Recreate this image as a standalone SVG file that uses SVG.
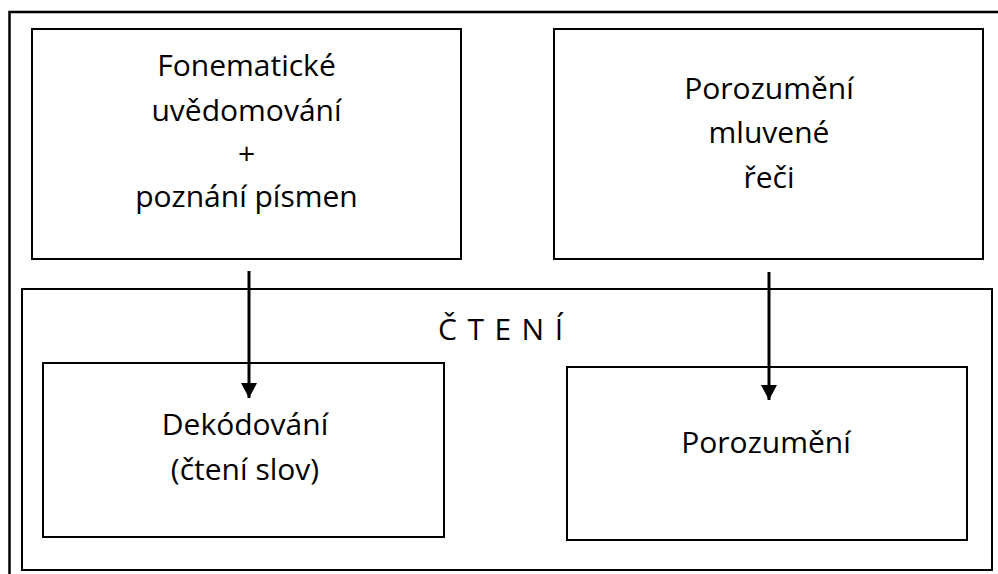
<svg xmlns="http://www.w3.org/2000/svg" width="998" height="574" viewBox="0 0 998 574">
<defs>
<style>
.box{fill:none;stroke:#000;stroke-width:2}
.t{font-family:"Open Sans","Noto Sans",sans-serif;font-size:30px;fill:#000;text-anchor:middle}
.conn{stroke:#000;stroke-width:3;fill:none}
</style>
<marker id="ah" markerUnits="userSpaceOnUse" markerWidth="18" markerHeight="18" refX="15" refY="8" orient="auto">
<path d="M0,0 L15,8 L0,16 Z" fill="#000"/>
</marker>
</defs>
<rect width="998" height="574" fill="#fff"/>
<path d="M9.5,574 V12 H998" fill="none" stroke="#000" stroke-width="2.5"/>
<g id="cteni">
<rect class="box" x="22" y="289" width="970" height="281"/>
<text class="t" x="438" y="340" style="text-anchor:start;letter-spacing:10.5px">ČTENÍ</text>
</g>
<g id="fonematicke">
<rect class="box" x="32" y="29" width="429" height="230"/>
<text class="t" x="246.5" y="76">Fonematické</text>
<text class="t" x="246.5" y="121">uvědomování</text>
<text class="t" x="246.5" y="164">+</text>
<text class="t" x="246.5" y="207">poznání písmen</text>
</g>
<g id="porozumeni-reci">
<rect class="box" x="554" y="29" width="429" height="230"/>
<text class="t" x="769" y="99">Porozumění</text>
<text class="t" x="769" y="143">mluvené</text>
<text class="t" x="769" y="188">řeči</text>
</g>
<g id="dekodovani">
<rect class="box" x="43" y="363" width="401" height="174"/>
<text class="t" x="245" y="435">Dekódování</text>
<text class="t" x="245" y="480">(čtení slov)</text>
</g>
<g id="porozumeni">
<rect class="box" x="567" y="367" width="400" height="173"/>
<text class="t" x="766" y="453">Porozumění</text>
</g>
<g id="connectors">
<line class="conn" x1="249" y1="271" x2="249" y2="398" marker-end="url(#ah)"/>
<line class="conn" x1="769" y1="272" x2="769" y2="400" marker-end="url(#ah)"/>
</g>
</svg>
